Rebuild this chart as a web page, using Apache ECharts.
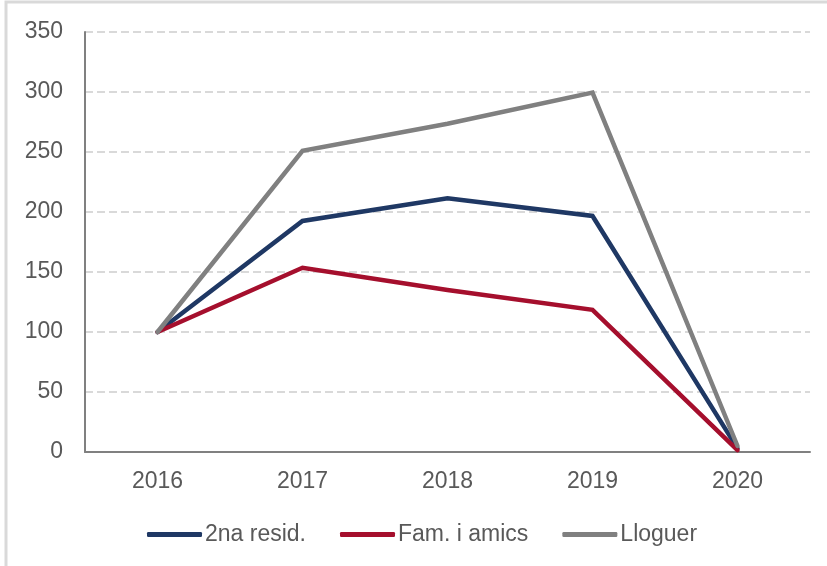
<!DOCTYPE html>
<html>
<head>
<meta charset="utf-8">
<script src="https://cdn.jsdelivr.net/npm/echarts@6/dist/echarts.min.js"></script>
<style>
html,body{margin:0;padding:0;background:#fff;}
#chart{width:827px;height:566px;}
</style>
</head>
<body>
<div id="chart"></div>
<script>
const categories = ['2016', '2017', '2018', '2019', '2020'];
const segonaResid = [100, 192.5, 211.5, 196.7, 3];
const famAmics = [100, 153.5, 135, 118.5, 1.5];
const lloguer = [100, 251, 273.5, 299.5, 5];
const seriesNames = ['2na resid.', 'Fam. i amics', 'Lloguer'];
const yTicks = { min: 0, max: 350, interval: 50 };

const colors = ['#1F3864', '#A50F2D', '#808080'];
const font = 'Liberation Sans, Arial, sans-serif';
const chart = echarts.init(document.getElementById('chart'), null, { renderer: 'canvas' });

function mk(name, data, color) {
  return {
    name: name,
    type: 'line',
    data: data,
    symbol: 'none',
    smooth: false,
    lineStyle: { width: 4.5, color: color, cap: 'round', join: 'miter' },
    itemStyle: { color: color }
  };
}

chart.setOption({
  animation: false,
  backgroundColor: '#fff',
  graphic: [{
    type: 'rect',
    shape: { x: 6, y: 2, width: 900, height: 700 },
    style: { fill: 'none', stroke: '#d9d9d9', lineWidth: 3 },
    silent: true
  }],
  grid: { left: 85, right: 17, top: 32, bottom: 114, containLabel: false },
  legend: {
    data: seriesNames,
    left: 147,
    top: 523,
    padding: 0,
    itemWidth: 55,
    itemHeight: 5,
    itemGap: 34,
    icon: 'roundRect',
    textStyle: { fontSize: 23, color: '#595959', fontFamily: font, padding: [0, 0, 0, -2] }
  },
  xAxis: {
    type: 'category',
    data: categories,
    boundaryGap: true,
    axisLine: { lineStyle: { color: '#808080', width: 2 } },
    axisTick: { show: false },
    axisLabel: { fontSize: 23, color: '#595959', fontFamily: font, margin: 18 },
    splitLine: { show: false }
  },
  yAxis: {
    type: 'value',
    min: yTicks.min,
    max: yTicks.max,
    interval: yTicks.interval,
    axisLine: { show: true, lineStyle: { color: '#808080', width: 2 } },
    axisTick: { show: false },
    axisLabel: { fontSize: 23, color: '#595959', fontFamily: font, margin: 22 },
    splitLine: { show: true, lineStyle: { color: '#d9d9d9', width: 2, type: [8, 4] } }
  },
  series: [
    mk(seriesNames[0], segonaResid, colors[0]),
    mk(seriesNames[1], famAmics, colors[1]),
    mk(seriesNames[2], lloguer, colors[2])
  ]
});
</script>
</body>
</html>
